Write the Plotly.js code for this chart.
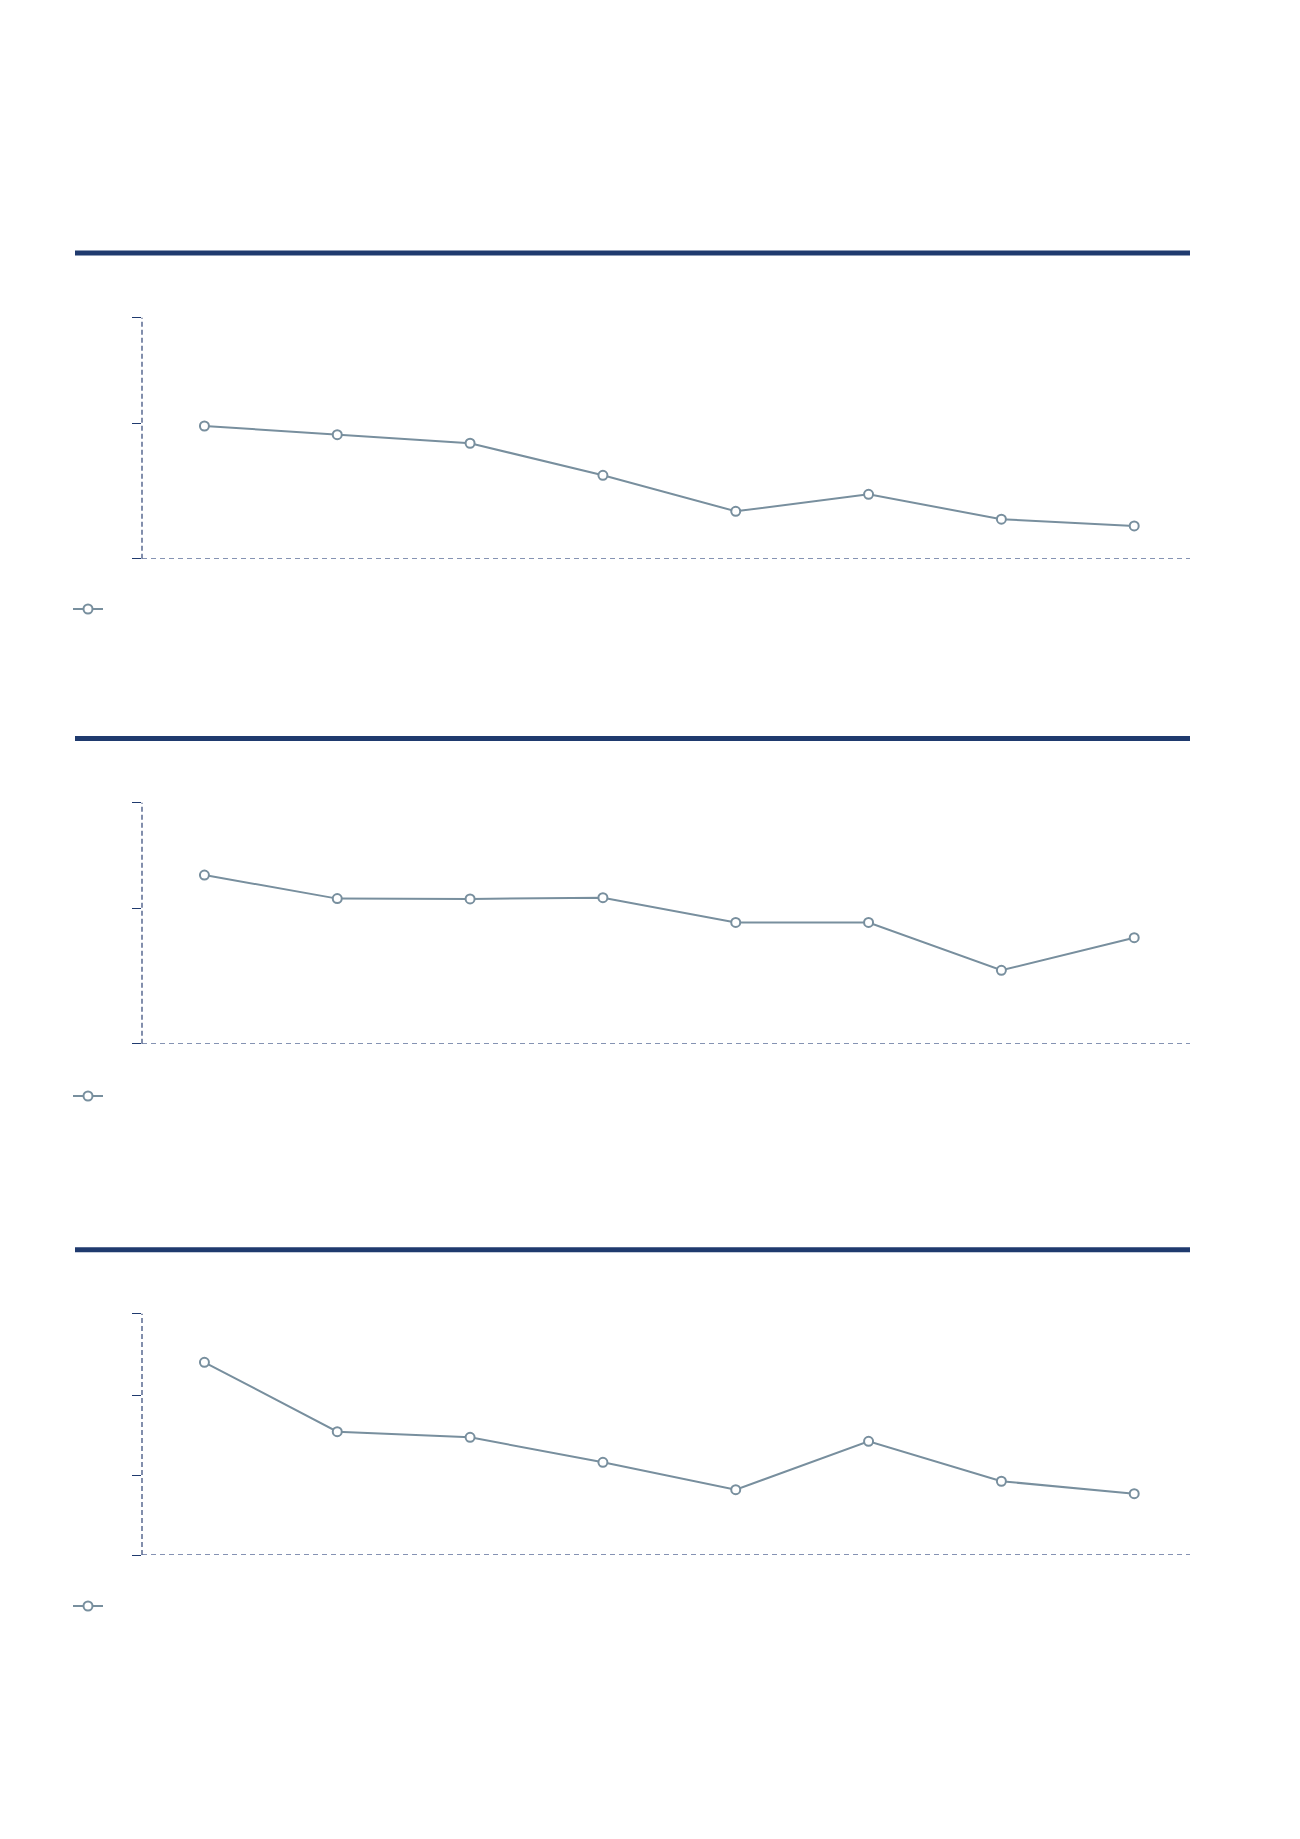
<!DOCTYPE html>
<html>
<head>
<meta charset="utf-8">
<script src="https://cdn.plot.ly/plotly-3.0.1.min.js"></script>
<style>html,body{margin:0;padding:0;background:#fff;}#chart{width:1300px;height:1839px;}</style>
</head>
<body>
<div id="chart"></div>
<script>
// Data (no visible labels in the reference; categories are positional)
const categories = ['P1','P2','P3','P4','P5','P6','P7','P8'];
const series1 = [9.85, 9.21, 8.57, 6.19, 3.52, 4.78, 2.93, 2.43];
const series2 = [12.52, 10.77, 10.75, 10.84, 9.0, 9.0, 5.45, 7.87];
const series3 = [12.10, 7.74, 7.39, 5.82, 4.10, 7.14, 4.63, 3.85];
const yTicks1 = [0, 10, 17.89];
const yTicks2 = [0, 10, 17.89];
const yTicks3 = [0, 5, 10, 15.15];

const W = 1300, H = 1839;
const lineCol = '#788f9e';
const navy = '#1f3a6e';
const axisCol = '#2f4476';
const baseCol = '#5d6f9a';

function trace(y, xa, ya, lg) {
  return {
    type: 'scatter', mode: 'lines+markers', x: categories, y: y,
    xaxis: xa, yaxis: ya, legend: lg, name: '', showlegend: true,
    line: {color: lineCol, width: 2},
    marker: {symbol: 'circle', size: 9, color: '#ffffff', line: {color: lineCol, width: 2}},
    hoverinfo: 'skip'
  };
}

const xdom = [142 / W, 1190 / W];
function ydom(top, bottom) { return [1 - bottom / H, 1 - top / H]; }

function xaxis(anchor) {
  return {domain: xdom, anchor: anchor, type: 'category', range: [-0.47, 7.42],
    showgrid: false, zeroline: false, showline: false, showticklabels: false, ticks: '', fixedrange: true};
}
function yaxis(anchor, dom, ticks) {
  return {domain: dom, anchor: anchor, range: [0, ticks[ticks.length - 1]],
    tickmode: 'array', tickvals: ticks, showticklabels: false, ticks: 'outside', ticklen: 9,
    tickwidth: 1, tickcolor: navy, showgrid: false, zeroline: false, showline: false, fixedrange: true};
}

const shapes = [];
function panelShapes(xr, yr, barY) {
  shapes.push({type: 'line', xref: xr + ' domain', yref: yr + ' domain', x0: 0, x1: 0, y0: 0, y1: 1,
    line: {color: axisCol, width: 1.2, dash: '5px,3px'}});
  shapes.push({type: 'line', xref: xr + ' domain', yref: yr, x0: 0, x1: 1, y0: 0, y1: 0,
    line: {color: baseCol, width: 1.4, dash: '5px,4px'}});
  shapes.push({type: 'line', xref: 'paper', yref: 'paper', x0: 75 / W, x1: 1190 / W, y0: 1 - barY / H, y1: 1 - barY / H,
    line: {color: navy, width: 5}});
}
panelShapes('x', 'y', 253);
panelShapes('x2', 'y2', 738.5);
panelShapes('x3', 'y3', 1249.7);

function legend(yc) {
  return {x: 68 / W, xanchor: 'left', y: 1 - yc / H, yanchor: 'middle', orientation: 'h',
    bgcolor: 'rgba(0,0,0,0)', borderwidth: 0, font: {size: 12, color: '#333'}};
}

const data = [
  trace(series1, 'x', 'y', 'legend'),
  trace(series2, 'x2', 'y2', 'legend2'),
  trace(series3, 'x3', 'y3', 'legend3')
];

const layout = {
  width: W, height: H, margin: {l: 0, r: 0, t: 0, b: 0},
  paper_bgcolor: '#ffffff', plot_bgcolor: '#ffffff',
  xaxis: xaxis('y'), xaxis2: xaxis('y2'), xaxis3: xaxis('y3'),
  yaxis: yaxis('x', ydom(317.7, 558.7), yTicks1),
  yaxis2: yaxis('x2', ydom(802.7, 1043.7), yTicks2),
  yaxis3: yaxis('x3', ydom(1313.7, 1555), yTicks3),
  legend: legend(609), legend2: legend(1096), legend3: legend(1606),
  showlegend: true,
  shapes: shapes
};

Plotly.newPlot('chart', data, layout, {displayModeBar: false, staticPlot: true});
</script>
</body>
</html>
